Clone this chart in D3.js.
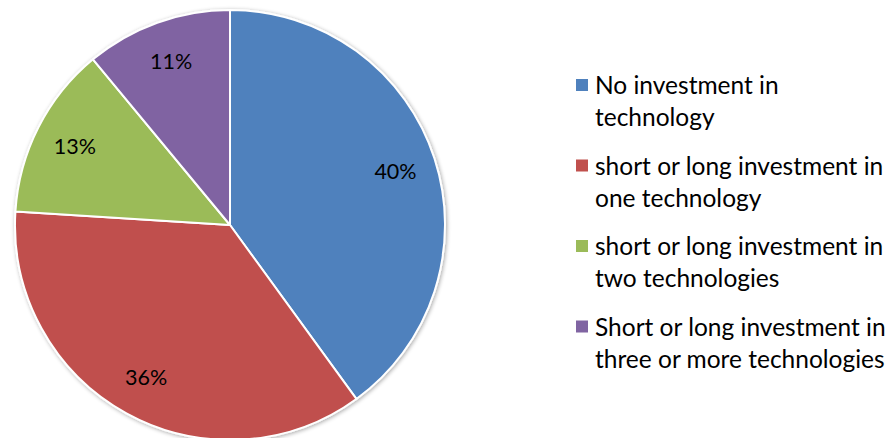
<!DOCTYPE html>
<html>
<head>
<meta charset="utf-8">
<script src="https://cdn.jsdelivr.net/npm/d3@7/dist/d3.min.js"></script>
<style>
  html, body { margin: 0; padding: 0; background: #fff; }
  svg { display: block; }
</style>
</head>
<body>
<svg id="chart" width="894" height="438"></svg>
<script>
// Share of firms by number of technologies invested in
const categories = [
  ["No investment in", "technology"],
  ["short or long investment in", "one technology"],
  ["short or long investment in", "two technologies"],
  ["Short or long investment in", "three or more technologies"]
];
const shares = [40, 36, 13, 11];
const sliceColors = ["#4F81BD", "#C0504D", "#9BBB59", "#8064A2"];

const W = 894, H = 438;
const cx = 230, cy = 225, R = 215;
const font = "Lato, 'Open Sans', sans-serif";

const svg = d3.select("#chart");

// soft shadow around the pie
const defs = svg.append("defs");
const f = defs.append("filter").attr("id", "shadow")
  .attr("x", "-10%").attr("y", "-10%").attr("width", "120%").attr("height", "120%");
f.append("feGaussianBlur").attr("in", "SourceAlpha").attr("stdDeviation", 2).attr("result", "b");
f.append("feOffset").attr("in", "b").attr("dx", 1).attr("dy", 1).attr("result", "o");
f.append("feComponentTransfer").attr("in", "o").attr("result", "s")
  .append("feFuncA").attr("type", "linear").attr("slope", 0.35);
const fm = f.append("feMerge");
fm.append("feMergeNode").attr("in", "s");
fm.append("feMergeNode").attr("in", "SourceGraphic");

const pie = d3.pie().sort(null).value(d => d);
const arcs = pie(shares);
const arc = d3.arc().innerRadius(0).outerRadius(R);
const labelArc = d3.arc().innerRadius(174).outerRadius(174);

const g = svg.append("g").attr("transform", `translate(${cx},${cy})`);

g.append("g").attr("filter", "url(#shadow)")
  .selectAll("path").data(arcs).join("path")
  .attr("d", arc)
  .attr("fill", (d, i) => sliceColors[i])
  .attr("stroke", "#fff")
  .attr("stroke-width", 2)
  .attr("stroke-linejoin", "round");

g.selectAll("text.lbl").data(arcs).join("text")
  .attr("class", "lbl")
  .attr("transform", d => `translate(${labelArc.centroid(d)})`)
  .attr("text-anchor", "middle")
  .attr("dominant-baseline", "central")
  .attr("font-family", font)
  .attr("font-size", 21.5)
  .attr("fill", "#000")
  .text(d => d.data + "%");

// legend
const legend = svg.append("g").attr("transform", "translate(576,94)");
const item = legend.selectAll("g").data(categories).join("g")
  .attr("transform", (d, i) => `translate(0,${i * 80.5})`);
item.append("rect")
  .attr("x", 0).attr("y", -15).attr("width", 12).attr("height", 12)
  .attr("fill", (d, i) => sliceColors[i]);
const txt = item.append("text")
  .attr("x", 19).attr("y", 0)
  .attr("font-family", font)
  .attr("font-size", 24.5)
  .attr("fill", "#000");
txt.selectAll("tspan").data(d => d).join("tspan")
  .attr("x", 19)
  .attr("dy", (d, i) => i === 0 ? 0 : 32)
  .text(d => d);
</script>
</body>
</html>
